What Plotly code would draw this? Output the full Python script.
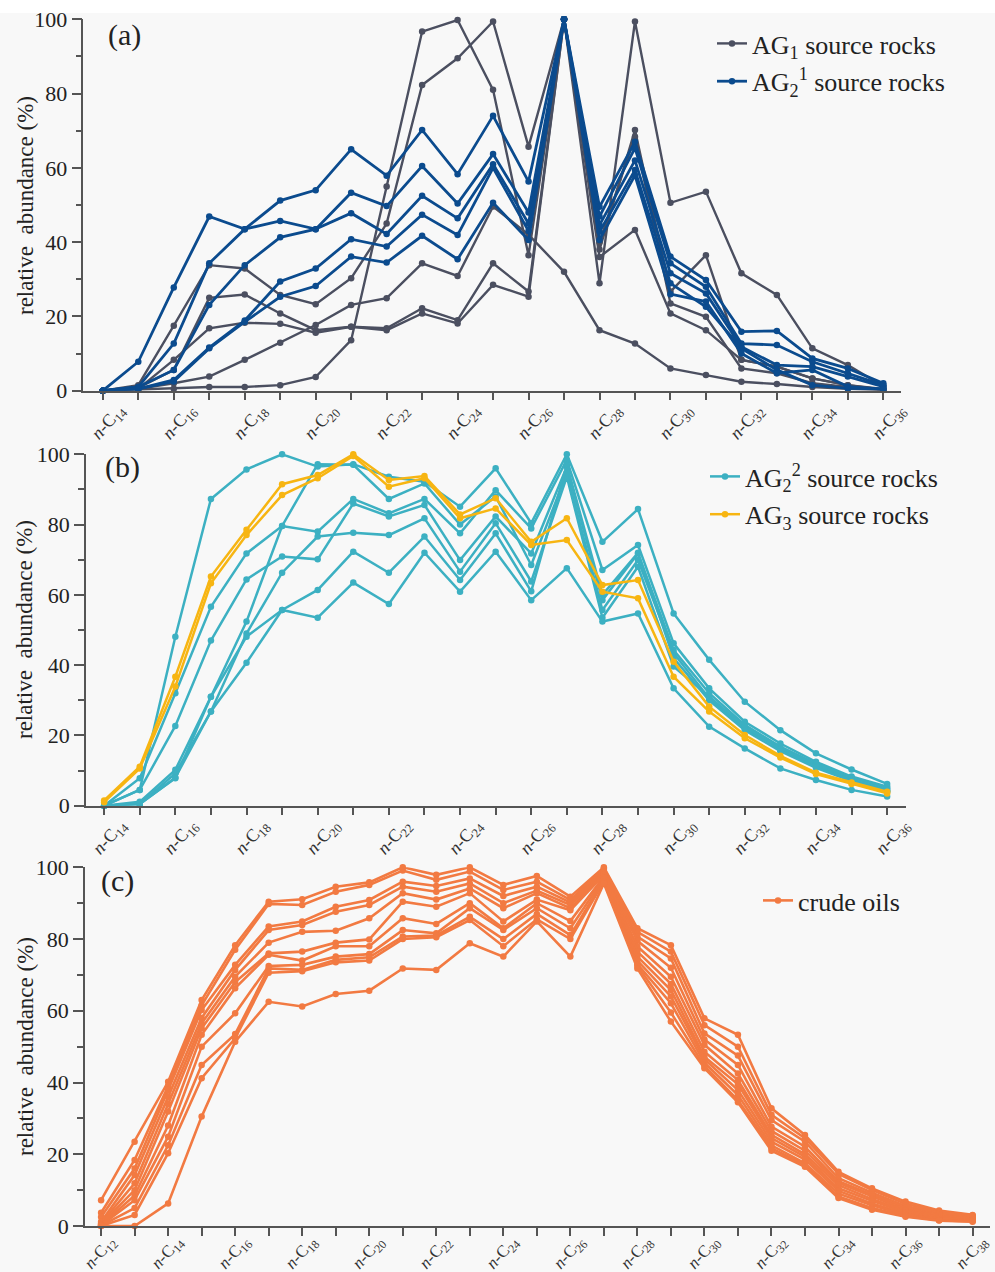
import plotly.graph_objects as go

# ---------------- data ----------------
# panel (a): carbon numbers n-C14 .. n-C36
carbon_a = [14, 15, 16, 17, 18, 19, 20, 21, 22, 23, 24, 25, 26, 27, 28, 29, 30, 31, 32, 33, 34, 35, 36]
ag1_a = [0, 1.5, 17.5, 33.8, 32.9, 25.8, 23.3, 30.3, 45.0, 82.3, 89.5, 99.4, 65.7, 100, 38.0, 70.2, 26.7, 36.5, 8.3, 6.5, 3.3, 1.5, 0.3]
ag1_b = [0, 0.3, 0.5, 1.0, 1.0, 1.5, 3.7, 13.6, 55.0, 96.7, 99.8, 81.0, 36.5, 100, 28.9, 99.4, 50.6, 53.6, 31.6, 25.8, 11.4, 6.9, 1.2]
ag1_c = [0, 0.8, 5.6, 25.0, 25.9, 20.8, 16.3, 17.2, 16.8, 22.2, 19.0, 34.3, 26.7, 100, 40.0, 68.4, 23.5, 19.9, 6.0, 4.7, 2.0, 1.0, 0.3]
ag1_d = [0, 0.5, 2.0, 3.8, 8.3, 12.9, 17.7, 23.1, 24.9, 34.3, 30.9, 49.6, 42.0, 32.0, 16.3, 12.7, 6.0, 4.2, 2.4, 1.8, 1.0, 0.5, 0.2]
ag1_e = [0, 0.5, 8.3, 16.8, 18.3, 18.0, 15.6, 17.2, 16.3, 20.8, 18.1, 28.5, 25.3, 100, 36.0, 43.3, 20.8, 16.3, 8.3, 6.5, 3.3, 1.5, 0.5]
ag2_1_a = [0, 1.0, 12.7, 34.3, 43.5, 51.2, 54.0, 65.0, 57.9, 70.2, 58.3, 74.0, 56.3, 100, 49.5, 67.0, 36.1, 29.8, 15.9, 16.1, 8.7, 6.0, 2.0]
ag2_1_b = [0, 1.0, 5.6, 23.1, 33.8, 41.3, 43.5, 53.3, 49.7, 60.5, 50.4, 63.7, 48.0, 100, 46.9, 65.3, 34.3, 28.0, 12.7, 12.3, 7.8, 4.7, 1.5]
ag2_1_c = [0, 7.8, 27.8, 46.9, 43.5, 45.7, 43.5, 47.8, 42.2, 52.5, 46.4, 61.0, 45.0, 100, 44.6, 62.0, 31.6, 26.2, 11.8, 6.9, 6.5, 3.8, 1.1]
ag2_1_d = [0, 0.5, 2.9, 11.6, 18.9, 29.4, 32.9, 40.8, 38.8, 47.4, 41.9, 60.0, 43.0, 100, 42.8, 59.4, 28.9, 22.6, 11.4, 5.6, 1.5, 0.6, 0.5]
ag2_1_e = [0, 0.5, 2.5, 11.4, 18.5, 25.3, 28.2, 36.1, 34.5, 41.7, 35.4, 50.6, 40.6, 100, 40.6, 58.0, 26.0, 24.0, 10.0, 4.7, 5.6, 1.1, 0.4]

# panel (b): carbon numbers n-C14 .. n-C36
carbon_b = [14, 15, 16, 17, 18, 19, 20, 21, 22, 23, 24, 25, 26, 27, 28, 29, 30, 31, 32, 33, 34, 35, 36]
ag2_2_a = [0, 4.5, 48.1, 87.3, 95.7, 100, 96.5, 97.2, 93.6, 92.2, 85.1, 96.0, 80.4, 100, 75.1, 84.4, 54.7, 41.5, 29.6, 21.5, 14.9, 10.3, 6.2]
ag2_2_b = [0, 7.8, 32.0, 56.6, 71.8, 79.6, 78.0, 87.3, 83.2, 87.3, 77.5, 89.8, 78.9, 98.4, 67.1, 74.2, 46.2, 33.4, 23.9, 17.7, 12.5, 8.3, 5.4]
ag2_2_c = [0, 4.5, 22.7, 47.0, 64.4, 70.9, 70.1, 86.0, 82.3, 85.6, 69.9, 82.3, 71.8, 96.5, 58.5, 71.8, 44.3, 32.0, 23.0, 16.8, 12.0, 8.0, 5.0]
ag2_2_d = [0, 1.1, 10.2, 31.0, 52.4, 79.6, 97.2, 97.0, 87.3, 91.7, 80.0, 88.0, 68.5, 94.6, 55.7, 69.9, 43.4, 30.6, 22.0, 16.3, 11.5, 7.5, 4.5]
ag2_2_e = [0, 0.5, 9.2, 26.8, 49.0, 66.3, 76.6, 77.7, 77.0, 81.8, 66.6, 80.4, 63.8, 93.6, 53.5, 68.0, 39.6, 31.0, 22.5, 16.0, 11.2, 7.2, 4.2]
ag2_2_f = [0, 0.5, 7.8, 31.0, 48.1, 55.7, 61.4, 72.3, 66.3, 76.6, 64.2, 77.5, 61.0, 97.0, 60.0, 72.0, 42.0, 30.0, 21.5, 15.5, 10.8, 7.0, 4.0]
ag2_2_g = [0, 0.5, 8.0, 26.8, 40.7, 55.7, 53.5, 63.5, 57.4, 72.0, 60.9, 72.3, 58.5, 67.6, 52.4, 54.7, 33.4, 22.5, 16.3, 10.6, 7.3, 4.5, 2.6]
ag3_a = [1.5, 11.1, 36.7, 65.2, 78.5, 91.5, 94.1, 100, 92.7, 93.8, 82.9, 87.5, 75.1, 81.8, 62.8, 64.2, 41.0, 28.2, 20.1, 14.2, 9.4, 6.6, 4.0]
ag3_b = [1.0, 10.6, 33.9, 63.3, 77.0, 88.4, 93.2, 99.5, 90.8, 93.2, 81.8, 84.6, 74.2, 75.6, 60.9, 59.0, 36.7, 26.8, 19.2, 13.7, 9.0, 6.2, 3.5]

# panel (c): carbon numbers n-C12 .. n-C38
carbon_c = [12, 13, 14, 15, 16, 17, 18, 19, 20, 21, 22, 23, 24, 25, 26, 27, 28, 29, 30, 31, 32, 33, 34, 35, 36, 37, 38]
oil_01 = [7.2, 23.5, 40.2, 63.0, 78.3, 90.4, 91.1, 94.6, 95.8, 100, 97.9, 100, 95.1, 97.6, 91.8, 100, 83.0, 78.3, 57.9, 53.3, 32.8, 25.4, 15.1, 10.5, 6.8, 4.3, 3.1]
oil_02 = [3.7, 18.4, 39.0, 61.5, 77.0, 89.8, 89.5, 93.2, 95.1, 99.1, 96.5, 98.8, 93.7, 96.0, 90.9, 99.7, 82.0, 76.5, 56.0, 50.0, 31.0, 24.5, 14.5, 10.0, 6.2, 4.0, 2.9]
oil_03 = [2.5, 16.0, 37.9, 60.2, 72.8, 83.5, 84.9, 89.0, 90.9, 96.0, 94.8, 96.9, 92.0, 94.6, 90.2, 99.3, 80.7, 74.6, 53.7, 47.5, 29.5, 23.5, 13.3, 9.3, 5.6, 3.6, 2.7]
oil_04 = [1.2, 14.2, 36.0, 58.0, 71.4, 82.5, 83.9, 87.6, 89.5, 94.6, 93.2, 95.5, 90.0, 93.5, 89.5, 98.8, 79.5, 72.0, 52.0, 44.9, 27.7, 22.1, 12.5, 8.8, 5.0, 3.2, 2.5]
oil_05 = [0.8, 11.9, 34.0, 56.5, 69.5, 79.0, 82.0, 82.3, 85.8, 92.8, 91.0, 94.1, 88.6, 92.8, 88.6, 98.3, 77.9, 69.5, 50.5, 42.5, 26.5, 21.0, 12.0, 8.2, 4.5, 2.9, 2.3]
oil_06 = [0.5, 10.0, 31.9, 55.1, 68.0, 76.0, 76.5, 79.0, 79.9, 90.4, 89.0, 92.8, 84.9, 91.0, 88.0, 97.9, 76.5, 67.5, 48.6, 40.7, 25.4, 20.0, 11.4, 7.5, 4.2, 2.6, 2.1]
oil_07 = [0.3, 8.5, 28.0, 53.3, 66.3, 75.6, 74.0, 78.0, 78.0, 85.8, 84.2, 90.0, 83.0, 90.0, 85.0, 97.4, 75.1, 65.8, 47.2, 39.5, 24.5, 19.3, 10.5, 7.0, 3.8, 2.3, 1.9]
oil_08 = [0.2, 7.2, 24.9, 50.0, 59.3, 72.5, 72.8, 75.1, 75.8, 82.5, 81.6, 88.6, 82.5, 88.6, 83.0, 97.0, 74.0, 64.0, 46.5, 37.9, 23.5, 18.5, 9.8, 6.3, 3.4, 2.0, 1.7]
oil_09 = [0.1, 5.0, 22.5, 44.9, 53.5, 71.8, 71.4, 74.2, 74.9, 80.7, 81.0, 86.2, 80.0, 87.0, 81.1, 96.5, 73.0, 62.1, 45.5, 36.5, 22.5, 17.5, 9.0, 5.8, 3.1, 1.8, 1.5]
oil_10 = [0, 3.1, 20.3, 41.2, 52.3, 70.6, 71.0, 73.5, 74.0, 80.0, 80.5, 85.3, 78.0, 85.5, 80.0, 96.0, 72.5, 59.5, 44.6, 35.1, 21.7, 17.0, 8.2, 5.0, 2.8, 1.6, 1.3]
oil_11 = [0, 0, 6.3, 30.5, 51.4, 62.5, 61.2, 64.7, 65.6, 71.8, 71.4, 78.8, 75.1, 84.9, 75.1, 95.5, 71.8, 57.0, 44.0, 34.5, 21.0, 16.5, 7.8, 4.5, 2.6, 1.5, 1.2]

y_ticks = [0, 20, 40, 60, 80, 100]
y_minor = [10, 30, 50, 70, 90]
y_title = "relative  abundance (%)"

# ---------------- styling ----------------
W, H = 995, 1272
SERIF = "Liberation Serif"
C_AG1 = "#4b4f60"
C_AG21 = "#0b4b8e"
C_AG22 = "#3cb0c2"
C_AG3 = "#f7b512"
C_OIL = "#f27a42"
AXC = "#555555"


def fx(px):
    return px / W


def fy(py):
    return 1 - py / H


fig = go.Figure()


def add_group(xs, series, color, name, xa, ya, legend, width):
    for k, ys in enumerate(series):
        fig.add_trace(go.Scatter(
            x=xs, y=ys, mode="lines+markers", name=name,
            legendgroup=name, showlegend=(k == 0), legend=legend,
            line=dict(color=color, width=width),
            marker=dict(color=color, size=6.5),
            xaxis=xa, yaxis=ya, cliponaxis=False,
        ))


add_group(carbon_a, [ag1_a, ag1_b, ag1_c, ag1_d, ag1_e], C_AG1,
          "AG<sub>1</sub> source rocks", "x", "y", "legend", 2.4)
add_group(carbon_a, [ag2_1_a, ag2_1_b, ag2_1_c, ag2_1_d, ag2_1_e], C_AG21,
          "AG<sub>2</sub><sup>1</sup> source rocks", "x", "y", "legend", 2.8)
add_group(carbon_b, [ag2_2_a, ag2_2_b, ag2_2_c, ag2_2_d, ag2_2_e, ag2_2_f, ag2_2_g], C_AG22,
          "AG<sub>2</sub><sup>2</sup> source rocks", "x2", "y2", "legend2", 2.5)
add_group(carbon_b, [ag3_a, ag3_b], C_AG3,
          "AG<sub>3</sub> source rocks", "x2", "y2", "legend2", 2.5)
add_group(carbon_c, [oil_01, oil_02, oil_03, oil_04, oil_05, oil_06, oil_07, oil_08,
                     oil_09, oil_10, oil_11], C_OIL,
          "crude oils", "x3", "y3", "legend3", 2.6)


def xaxis(domain, rng, cs, anchor, size, standoff, shift):
    even = [c for c in cs if c % 2 == 0]
    odd = [c for c in cs if c % 2 == 1]
    return dict(
        domain=domain, range=rng, anchor=anchor,
        tickvals=even, ticktext=["<i>n</i>-C<sub>%d</sub>" % c for c in even],
        tickangle=-48, ticklabelshift=shift, ticklabelstandoff=standoff,
        ticklabeloverflow="allow",
        ticks="outside", ticklen=8, tickwidth=1.5, tickcolor=AXC,
        minor=dict(tickvals=odd, ticks="outside", ticklen=8, tickwidth=1.5, tickcolor=AXC),
        showline=True, linecolor=AXC, linewidth=1.5,
        showgrid=False, zeroline=False, automargin=False,
        tickfont=dict(family=SERIF, size=size, color="#333333"),
    )


def yaxis(domain, anchor):
    return dict(
        domain=domain, range=[0, 100], anchor=anchor,
        tickvals=y_ticks, ticks="outside", ticklen=10, tickwidth=1.5, tickcolor=AXC,
        minor=dict(tickvals=y_minor, ticks="outside", ticklen=6, tickwidth=1.5, tickcolor=AXC),
        showline=True, linecolor=AXC, linewidth=1.5,
        showgrid=False, zeroline=False, automargin=False,
        tickfont=dict(family=SERIF, size=22, color="#222222"),
    )


legend_common = dict(
    bgcolor="rgba(0,0,0,0)", borderwidth=0, xanchor="left", yanchor="top",
    font=dict(family=SERIF, size=26, color="#222222"), tracegroupgap=1,
)


def label(text, px, py, size, angle=0):
    return dict(text=text, x=fx(px), y=fy(py), xref="paper", yref="paper",
                xanchor="center", yanchor="middle",
                showarrow=False, textangle=angle,
                font=dict(family=SERIF, size=size, color="#222222"))


fig.update_layout(
    width=W, height=H,
    margin=dict(l=0, r=0, t=0, b=0),
    paper_bgcolor="#f8f8f8", plot_bgcolor="#f8f8f8",
    font=dict(family=SERIF),
    xaxis=xaxis([fx(83.3), fx(900.7)], [13.45, 36.49], carbon_a, "y", 18, -8, 16),
    yaxis=yaxis([fy(390.7), fy(19.3)], "x"),
    xaxis2=xaxis([fx(86), fx(906)], [13.49, 36.53], carbon_b, "y2", 18, -8, 16),
    yaxis2=yaxis([fy(805.7), fy(454.3)], "x2"),
    xaxis3=xaxis([fx(85), fx(990)], [11.52, 38.52], carbon_c, "y3", 17, -11, 9),
    yaxis3=yaxis([fy(1226), fy(867.3)], "x3"),
    legend=dict(legend_common, x=fx(712), y=fy(20)),
    legend2=dict(legend_common, x=fx(705), y=fy(453)),
    legend3=dict(legend_common, x=fx(758), y=fy(877)),
    shapes=[dict(type="rect", xref="paper", yref="paper", x0=0, x1=1,
                 y0=fy(13), y1=1, fillcolor="white", line=dict(width=0), layer="below")],
    annotations=[
        label("(a)", 125, 35, 30),
        label("(b)", 122, 467, 30),
        label("(c)", 117, 881, 30),
        label(y_title, 25, 206, 23, -90),
        label(y_title, 25, 630, 23, -90),
        label(y_title, 25, 1047, 23, -90),
    ],
)

fig.write_html("out.html")
